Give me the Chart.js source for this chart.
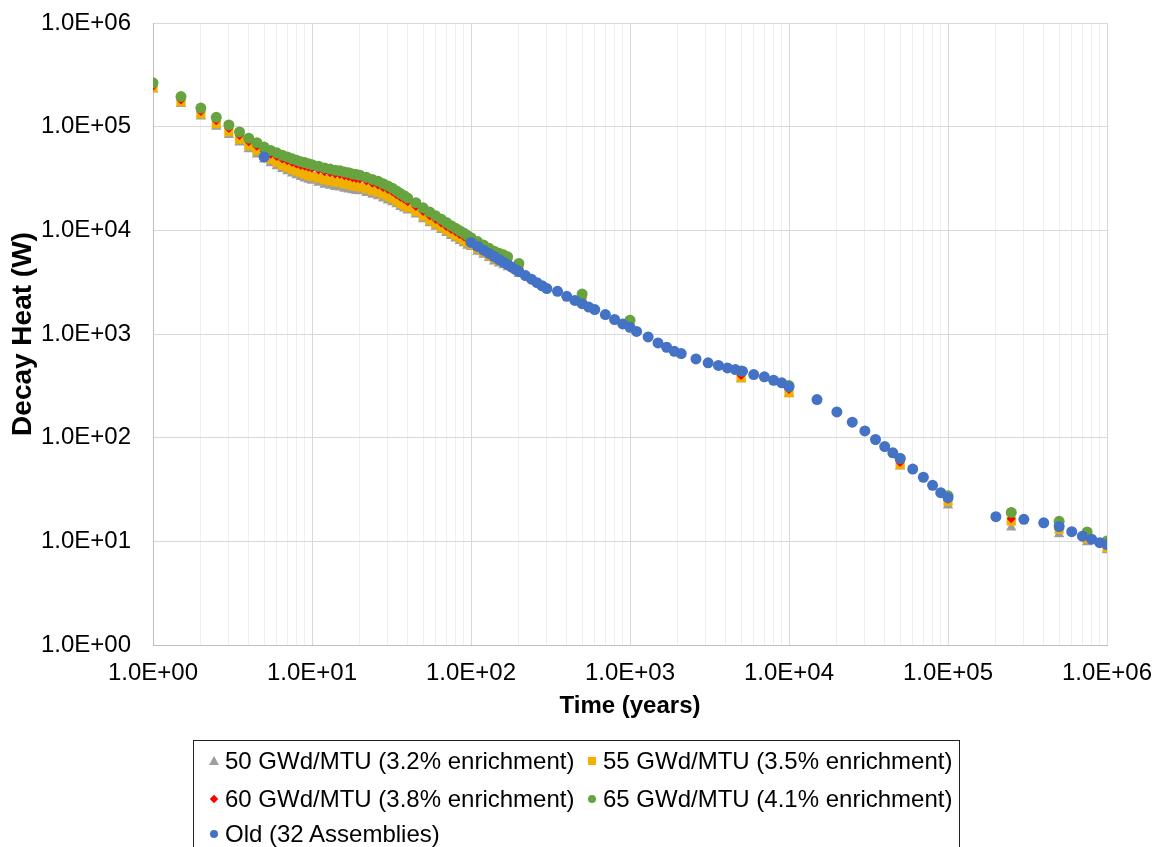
<!DOCTYPE html>
<html>
<head>
    <meta charset="utf-8">
    <title>Decay Heat vs Time</title>
    <script src="https://cdn.jsdelivr.net/npm/chart.js"></script>
    <style>
        body, html {
            margin: 0;
            padding: 0;
            background: #fff;
            overflow: hidden;
            font-family: 'Liberation Sans', Arial, sans-serif;
        }
        .wrap { position: relative; width: 1156px; height: 847px; }
        .legend {
            position: absolute;
            left: 193px;
            top: 740px;
            width: 767px;
            height: 150px;
            border: 1px solid #222;
            box-sizing: border-box;
        }
        .lbl {
            position: absolute;
            font-size: 24px;
            line-height: 28px;
            white-space: nowrap;
            color: #000;
        }
        .mk { position: absolute; }
    </style>
</head>
<body>
<div class="wrap">
    <canvas id="heatChart" width="1156" height="847"></canvas>
    <div class="legend" id="legend"></div>
</div>

<script>
    // time axis of the new calculations (years)
    const timeNew = [1, 1.5, 2, 2.5, 3, 3.5, 4, 4.5, 5,
        5.5, 6, 6.5, 7, 7.5, 8, 8.5, 9, 9.5, 10,
        11, 12, 13, 14, 15, 16, 17, 18, 19, 20,
        22, 24, 26, 28, 30, 32, 34, 36, 38, 40,
        45, 50, 55, 60, 65, 70, 75, 80, 85, 90, 95, 100,
        110, 120, 130, 140, 150, 160, 170,
        200, 500, 1000, 5000, 10000, 50000, 100000, 250000, 500000, 750000, 1000000];

    const heat50 = [228000, 165000, 125000, 100000, 83200, 70300, 60500, 53900, 48300,
        44300, 41400, 39000, 37200, 35300, 34000, 32700, 31700, 30800, 30100,
        28800, 27600, 26900, 26200, 25900, 25200, 24800, 24300, 24000, 23800,
        22900, 22000, 21300, 20300, 19400, 18700, 17800, 16800, 16200, 15500,
        14200, 12800, 11700, 10800, 10100, 9400, 8800, 8350, 7900, 7500, 7100, 6900,
        6200, 5800, 5400, 5000, 4800, 4600, 4400,
        3800, 2000, 1180, 367, 264, 52.8, 22.2, 13.6, 11.7, 9.8, 8.2];

    const heat55 = [238000, 174000, 133000, 107000, 89400, 75700, 65500, 58800, 52700,
        48400, 45400, 42400, 40500, 38700, 37300, 35900, 34900, 33900, 33100,
        32000, 30800, 30000, 29300, 28900, 28100, 27700, 27000, 26600, 26200,
        25200, 24200, 23400, 22300, 21300, 20400, 19200, 18200, 17500, 16600,
        15200, 13700, 12500, 11600, 10800, 10100, 9500, 9000, 8500, 8100, 7650, 7300,
        6700, 6200, 5760, 5420, 5160, 4990, 4770,
        4080, 2090, 1220, 378, 271, 55, 24.3, 15.7, 13.1, 10.6, 8.7];

    const heat60 = [246000, 180400, 139700, 113800, 96200, 82300, 71700, 64800, 58400,
        54300, 51500, 48800, 46900, 45100, 43700, 42300, 41400, 40500, 39600,
        38200, 36800, 35900, 35000, 34500, 33600, 33100, 32200, 31700, 31300,
        29900, 28500, 27400, 25900, 24700, 23500, 22100, 20800, 19900, 18900,
        17000, 15200, 13800, 12700, 11800, 10900, 10200, 9700, 9100, 8650, 8200, 7800,
        7200, 6600, 6200, 5800, 5500, 5300, 5050,
        4340, 2260, 1280, 398, 292, 57.7, 25.4, 16.5, 13.9, 11.2, 9.2];

    const heat65 = [265000, 195000, 151000, 123000, 104000, 89000, 77500, 70000, 63500,
        59000, 56000, 53000, 51000, 49000, 47500, 46000, 45000, 44000, 43000,
        41500, 40000, 39000, 38000, 37500, 36500, 36000, 35000, 34500, 34000,
        32500, 31000, 29800, 28200, 26800, 25500, 24000, 22600, 21600, 20500,
        18500, 16500, 15000, 13800, 12800, 11900, 11100, 10500, 9900, 9400, 8900, 8500,
        7800, 7200, 6700, 6300, 6000, 5800, 5550,
        4800, 2430, 1360, 440, 318, 63, 27.5, 19, 15.6, 12.3, 10.1];

    // old 32 assembly results
    const timeOld = [5,
        100, 110, 120, 130, 140, 150, 160, 170, 180, 190, 200,
        220, 240, 260, 280, 300,
        350, 400, 450, 500, 550, 600, 700, 800, 900, 1000,
        1100, 1300, 1500, 1700, 1900, 2100,
        2600, 3100, 3600, 4100, 4600, 5100,
        6000, 7000, 8000, 9000, 10000,
        15000, 20000, 25000, 30000, 35000, 40000, 45000, 50000,
        60000, 70000, 80000, 90000, 100000,
        200000, 300000, 400000, 500000, 600000, 700000, 800000, 900000, 1000000];

    const heatOld = [51000,
        7640, 7000, 6440, 5980, 5580, 5230, 4930, 4660, 4420, 4200, 4000,
        3660, 3380, 3130, 2920, 2740,
        2580, 2310, 2110, 1960, 1820, 1720, 1540, 1380, 1250, 1160,
        1060, 937, 820, 745, 681, 647,
        575, 527, 497, 471, 454, 438,
        406, 386, 358, 338, 309,
        233, 177, 141, 116, 96, 82, 71.5, 63,
        49.8, 41.5, 34.7, 29.5, 26.4,
        17.3, 16.3, 15.1, 13.9, 12.4, 11.2, 10.5, 9.7, 9.3];

    const seriesLabels = ['50 GWd/MTU (3.2% enrichment)', '55 GWd/MTU (3.5% enrichment)',
        '60 GWd/MTU (3.8% enrichment)', '65 GWd/MTU (4.1% enrichment)', 'Old (32 Assemblies)'];

    const FONT = "'Liberation Sans', Arial, sans-serif";
    Chart.defaults.font.family = FONT;
    Chart.defaults.color = '#000';

    const pts = (xs, ys) => xs.map((t, i) => ({ x: t, y: ys[i] }));
    const isDecade = v => Math.abs(Math.log10(v) - Math.round(Math.log10(v))) < 1e-9;
    function sci(v) {
        const e = Math.round(Math.log10(v));
        return '1.0E' + (e < 0 ? '-' : '+') + String(Math.abs(e)).padStart(2, '0');
    }

    const colors = ['#9e9e9e', '#f0b000', '#ff0000', '#67a33e', '#4472c4'];

    const datasets = [
        { label: seriesLabels[4], data: pts(timeOld, heatOld), pointStyle: 'circle', pointRadius: 5.5, backgroundColor: colors[4], order: 0 },
        { label: seriesLabels[3], data: pts(timeNew, heat65), pointStyle: 'circle', pointRadius: 5.5, backgroundColor: colors[3], order: 1 },
        { label: seriesLabels[2], data: pts(timeNew, heat60), pointStyle: 'rectRot', pointRadius: 4.5, backgroundColor: colors[2], order: 2 },
        { label: seriesLabels[1], data: pts(timeNew, heat55), pointStyle: 'rect', pointRadius: 6.5, backgroundColor: colors[1], order: 3 },
        { label: seriesLabels[0], data: pts(timeNew, heat50), pointStyle: 'triangle', pointRadius: 6, backgroundColor: colors[0], order: 4 }
    ];
    datasets.forEach(d => { d.borderWidth = 0; d.pointBorderWidth = 0; d.borderColor = d.backgroundColor; d.showLine = false; });

    new Chart(document.getElementById('heatChart').getContext('2d'), {
        type: 'scatter',
        data: { datasets: datasets },
        options: {
            responsive: false,
            animation: false,
            events: [],
            layout: { padding: { left: 6, top: 23, right: 49, bottom: 126 } },
            plugins: { legend: { display: false }, tooltip: { enabled: false } },
            scales: {
                x: {
                    type: 'logarithmic',
                    min: 1, max: 1e6,
                    afterBuildTicks: s => {
                        const t = [];
                        for (let e = 0; e < 6; e++) for (let m = 1; m < 10; m++) t.push({ value: m * Math.pow(10, e) });
                        t.push({ value: 1e6 });
                        s.ticks = t;
                    },
                    // fixed box, label overhang is covered by layout padding
                    afterFit: s => { s.height = 76; s.paddingLeft = 0; s.paddingRight = 0; },
                    ticks: {
                        autoSkip: false, maxRotation: 0, padding: 14,
                        font: { size: 24 }, color: '#000',
                        callback: v => isDecade(v) ? sci(v) : ''
                    },
                    grid: {
                        drawTicks: false,
                        color: c => (c.tick && isDecade(c.tick.value)) ? '#d9d9d9' : '#efefef'
                    },
                    border: { color: '#bfbfbf' },
                    title: { display: true, text: 'Time (years)', font: { size: 24, weight: 'bold' }, color: '#000', padding: 0 }
                },
                y: {
                    type: 'logarithmic',
                    min: 1, max: 1e6,
                    afterBuildTicks: s => {
                        const t = [];
                        for (let e = 0; e <= 6; e++) t.push({ value: Math.pow(10, e) });
                        s.ticks = t;
                    },
                    afterFit: s => { s.width = 147; s.paddingTop = 0; s.paddingBottom = 0; },
                    ticks: {
                        autoSkip: false, padding: 22,
                        font: { size: 24 }, color: '#000',
                        callback: v => sci(v)
                    },
                    grid: { drawTicks: false, color: '#d9d9d9' },
                    border: { color: '#bfbfbf' },
                    title: { display: true, text: 'Decay Heat (W)', font: { size: 28, weight: 'bold' }, color: '#000', padding: 0 }
                }
            }
        }
    });

    // legend box drawn as html, the chart.js legend cannot draw a frame round itself
    const legend = document.getElementById('legend');
    const slots = [[20, 20], [398, 20], [20, 58], [398, 58], [20, 93]];
    const marks = ['tri', 'sq', 'dia', 'dot', 'dot'];
    seriesLabels.forEach((txt, i) => {
        const [cx, cy] = slots[i];
        const m = document.createElement('div');
        m.className = 'mk';
        if (marks[i] === 'tri') {
            m.style.cssText = `left:${cx - 5}px;top:${cy - 5}px;width:0;height:0;border-left:5px solid transparent;border-right:5px solid transparent;border-bottom:9px solid ${colors[i]};`;
        } else if (marks[i] === 'sq') {
            m.style.cssText = `left:${cx - 4}px;top:${cy - 4}px;width:8px;height:8px;background:${colors[i]};`;
        } else if (marks[i] === 'dia') {
            m.style.cssText = `left:${cx - 3}px;top:${cy - 3}px;width:6px;height:6px;background:${colors[i]};transform:rotate(45deg);`;
        } else {
            m.style.cssText = `left:${cx - 4}px;top:${cy - 4}px;width:8px;height:8px;border-radius:50%;background:${colors[i]};`;
        }
        legend.appendChild(m);
        const t = document.createElement('div');
        t.className = 'lbl';
        t.textContent = txt;
        t.style.left = (cx + 11) + 'px';
        t.style.top = (cy - 14) + 'px';
        legend.appendChild(t);
    });
</script>
</body>
</html>
